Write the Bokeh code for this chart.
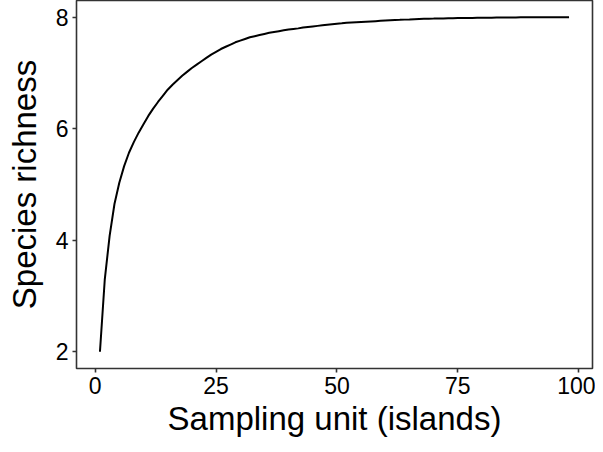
from bokeh.plotting import figure
from bokeh.models import Range1d, FixedTicker
from bokeh.embed import file_html
from bokeh.resources import INLINE

# Sampling units (islands) and estimated species richness
sampling_units = list(range(1, 99))
species_richness = [
    2.00, 3.30, 4.08, 4.65, 5.03, 5.33, 5.57, 5.76, 5.93, 6.08,
    6.23, 6.36, 6.48, 6.59, 6.70, 6.79, 6.87, 6.95, 7.02, 7.09,
    7.15, 7.21, 7.27, 7.33, 7.38, 7.43, 7.47, 7.51, 7.55, 7.58,
    7.61, 7.64, 7.66, 7.68, 7.70, 7.72, 7.735, 7.75, 7.765, 7.78,
    7.79, 7.80, 7.815, 7.825, 7.835, 7.845, 7.855, 7.865, 7.875, 7.885,
    7.89, 7.90, 7.905, 7.91, 7.915, 7.92, 7.925, 7.93, 7.935, 7.94,
    7.945, 7.95, 7.953, 7.957, 7.96, 7.965, 7.97, 7.972, 7.974, 7.975,
    7.977, 7.979, 7.981, 7.983, 7.985, 7.986, 7.987, 7.988, 7.989, 7.99,
    7.991, 7.992, 7.993, 7.994, 7.995, 7.996, 7.997, 7.998, 7.999, 8.0,
    8.0, 8.0, 8.0, 8.0, 8.0, 8.0, 8.0, 8.0,
]
x_ticks = [0, 25, 50, 75, 100]
y_ticks = [2, 4, 6, 8]
x_label = "Sampling unit (islands)"
y_label = "Species richness"

FONT = "Liberation Sans"

p = figure(
    width=595, height=444,
    output_backend="svg", toolbar_location=None,
    x_range=Range1d(-3.85, 102.85), y_range=Range1d(1.7, 8.3),
    min_border_left=76, min_border_right=3, min_border_top=0, min_border_bottom=76,
)
p.background_fill_color = "white"
p.border_fill_color = "white"
p.outline_line_color = "#333333"
p.outline_line_width = 1.6
p.xgrid.visible = False
p.ygrid.visible = False

p.line(sampling_units, species_richness, line_color="black", line_width=2)

for ax, ticks in ((p.xaxis[0], x_ticks), (p.yaxis[0], y_ticks)):
    ax.ticker = FixedTicker(ticks=ticks)
    ax.axis_line_color = None
    ax.major_tick_line_color = "#333333"
    ax.major_tick_line_width = 1.6
    ax.major_tick_in = 0
    ax.major_tick_out = 4
    ax.minor_tick_line_color = None
    ax.major_label_text_font = FONT
    ax.major_label_text_font_size = "23px"
    ax.major_label_text_color = "black"
    ax.major_label_standoff = 4
    ax.axis_label_text_font = FONT
    ax.axis_label_text_font_size = "33px"
    ax.axis_label_text_font_style = "normal"
    ax.axis_label_text_color = "black"

p.xaxis.axis_label = x_label
p.yaxis.axis_label = y_label
p.xaxis.axis_label_standoff = 3
p.yaxis.axis_label_standoff = 10

open("out.html", "w").write(file_html(p, INLINE))
